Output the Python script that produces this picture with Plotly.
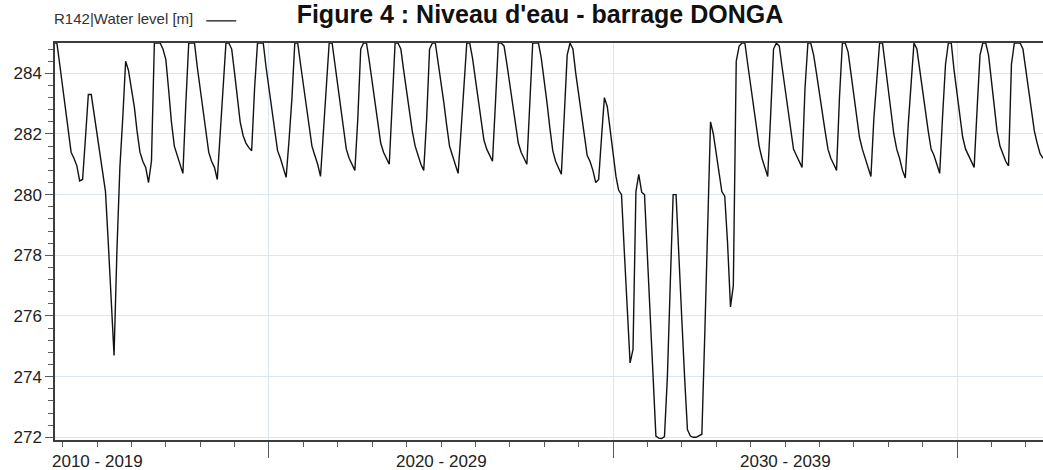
import pandas as pd
import plotly.graph_objects as go

# Monthly water level (m), first value = October 2013
start_month = "2013-10-01"
level_2010s = [
    285.0, 285.0, 284.3,
    283.6, 282.8, 282.1, 281.4, 281.2, 280.95, 280.45, 280.5, 281.9, 283.3, 283.3, 282.65,
    282.0, 281.4, 280.8, 280.1, 278.4, 276.5, 274.7, 278.2, 280.9, 282.5, 284.4, 284.1,
    283.5, 282.9, 282.1, 281.4, 281.1, 280.9, 280.4, 281.1, 285.0, 285.0, 285.0, 284.8,
    284.45, 283.4, 282.4, 281.6, 281.3, 281.0, 280.7, 283.0, 285.0, 285.0, 285.0, 284.2,
    283.5, 282.8, 282.1, 281.4, 281.1, 280.9, 280.5, 282.0, 283.5, 285.0, 285.0, 284.8,
    284.0, 283.2, 282.4, 281.95, 281.7, 281.55, 281.45, 283.5, 285.0, 285.0, 285.0, 284.2,
]
level_2020s = [
    283.5, 282.8, 282.1, 281.45, 281.2, 280.9, 280.57, 281.8, 283.2, 285.0, 285.0, 284.3,
    283.6, 283.0, 282.3, 281.6, 281.3, 281.0, 280.6, 282.0, 283.6, 285.0, 285.0, 284.3,
    283.6, 282.9, 282.1, 281.5, 281.2, 281.0, 280.8, 282.5, 284.8, 285.0, 285.0, 284.4,
    283.7, 283.0, 282.3, 281.7, 281.4, 281.2, 281.0, 283.0, 285.0, 285.0, 284.8, 284.1,
    283.4, 282.7, 282.1, 281.6, 281.3, 281.0, 280.8, 282.5, 284.8, 285.0, 285.0, 284.4,
    283.7, 283.0, 282.3, 281.6, 281.3, 281.0, 280.7, 282.1, 283.7, 285.0, 285.0, 284.5,
    283.8, 283.1, 282.4, 281.8, 281.5, 281.3, 281.1, 283.0, 285.0, 285.0, 284.9, 284.3,
    283.6, 283.0, 282.4, 281.7, 281.4, 281.2, 281.0, 283.0, 285.0, 285.0, 285.0, 284.5,
    283.8, 283.0, 282.2, 281.45, 281.1, 280.9, 280.67, 282.6, 284.6, 285.0, 284.8, 284.0,
    283.3, 282.6, 282.0, 281.3, 281.1, 280.8, 280.4, 280.5, 281.9, 283.2, 282.9, 282.2,
]
level_2030s = [
    281.3, 280.6, 280.15, 280.0, 278.1, 276.3, 274.45, 274.9, 280.1, 280.67, 280.08, 280.0,
    278.0, 275.8, 273.9, 272.04, 271.97, 271.96, 272.02, 274.0, 277.1, 280.0, 280.0, 277.7,
    275.9, 273.9, 272.25, 272.04, 272.0, 272.0, 272.04, 272.1, 275.4, 279.0, 282.4, 282.0,
    281.3, 280.6, 280.1, 279.95, 278.4, 276.3, 277.0, 284.4, 284.9, 285.0, 285.0, 284.3,
    283.6, 282.9, 282.2, 281.6, 281.2, 280.9, 280.6, 282.6, 284.8, 285.0, 284.9, 284.2,
    283.5, 282.8, 282.1, 281.5, 281.3, 281.1, 280.9, 283.5, 285.0, 285.0, 284.6, 284.0,
    283.3, 282.7, 282.1, 281.5, 281.2, 281.0, 280.8, 283.2, 285.0, 285.0, 284.7, 284.0,
    283.3, 282.6, 281.9, 281.5, 281.2, 280.9, 280.6, 282.5, 283.9, 285.0, 285.0, 284.2,
    283.4, 282.7, 282.0, 281.5, 281.2, 280.8, 280.55, 282.3, 283.7, 285.0, 284.8, 284.1,
    283.4, 282.7, 282.1, 281.5, 281.3, 281.0, 280.7, 282.6, 284.3, 285.0, 285.0, 284.1,
]
level_2040s = [
    283.3, 282.6, 281.9, 281.5, 281.3, 281.1, 280.9, 282.8, 284.6, 285.0, 285.0, 284.6,
    283.8, 282.9, 282.1, 281.6, 281.35, 281.1, 280.95, 284.3, 285.0, 285.0, 285.0, 284.8,
    284.1, 283.5, 282.8, 282.1, 281.7, 281.35, 281.2,
]

x_range = ["2013-10-12", "2042-07-02"]
y_range = [271.91, 285.0]
decade_ticks = ["2020-01-01", "2030-01-01", "2040-01-01"]
decade_labels = ["2010 - 2019", "2020 - 2029", "2030 - 2039"]
decade_label_pos = ["2015-01-01", "2025-01-01", "2035-01-01"]

title_text = "Figure 4 : Niveau d'eau - barrage DONGA"
legend_text = "R142|Water level [m]"

level = level_2010s + level_2020s + level_2030s + level_2040s
dates = pd.date_range(start_month, periods=len(level), freq="MS")

FONT = "Arial, 'Liberation Sans', sans-serif"
GRID = "#d9e6f5"
AXIS = "#3c3c3c"
TICK = "#5a5a5a"

fig = go.Figure()
fig.add_trace(go.Scatter(
    x=dates, y=level, mode="lines", name="",
    line=dict(color="#121212", width=1.4),
    showlegend=True,
))

annotations = [
    dict(x=pos, y=-0.053, xref="x", yref="paper", text=lab, showarrow=False,
         xanchor="center", yanchor="middle", font=dict(family=FONT, size=17, color="#222"))
    for pos, lab in zip(decade_label_pos, decade_labels)
]

fig.update_layout(
    width=1043, height=470,
    margin=dict(l=55, r=0, t=43, b=30),
    paper_bgcolor="white", plot_bgcolor="white",
    font=dict(family=FONT, color="#222"),
    title=dict(text=title_text, x=0.5177, xref="container", xanchor="center",
               y=0.9697, yref="container", yanchor="middle",
               font=dict(family=FONT, size=25, color="#111", weight="bold")),
    legend=dict(
        title=dict(text=legend_text, side="left", font=dict(family=FONT, size=15, color="#333")),
        orientation="h", x=-0.003, xanchor="left", y=1.055, yanchor="middle",
        bgcolor="rgba(0,0,0,0)", font=dict(family=FONT, size=15, color="#333"),
    ),
    annotations=annotations,
    xaxis=dict(
        type="date", range=x_range,
        tickvals=decade_ticks, showticklabels=False,
        ticks="outside", ticklen=16, tickwidth=1, tickcolor=TICK,
        showgrid=True, gridcolor=GRID, gridwidth=1,
        minor=dict(dtick="M12", tick0="2010-01-01", ticks="outside", ticklen=5,
                   tickwidth=1, tickcolor=TICK, showgrid=False),
        showline=True, linecolor=AXIS, linewidth=1.5, mirror=True,
        zeroline=False,
    ),
    yaxis=dict(
        range=y_range, tick0=272, dtick=2,
        ticks="outside", ticklen=8, tickwidth=1, tickcolor=TICK,
        tickfont=dict(family=FONT, size=17, color="#222"),
        showgrid=True, gridcolor=GRID, gridwidth=1,
        minor=dict(tick0=272, dtick=0.4, ticks="outside", ticklen=5, tickwidth=1,
                   tickcolor=TICK, showgrid=False),
        showline=True, linecolor=AXIS, linewidth=1.5,
        zeroline=False, automargin=False,
    ),
)

fig.write_html("out.html", config={"displayModeBar": False},
               post_script="document.body.style.margin='0';")
